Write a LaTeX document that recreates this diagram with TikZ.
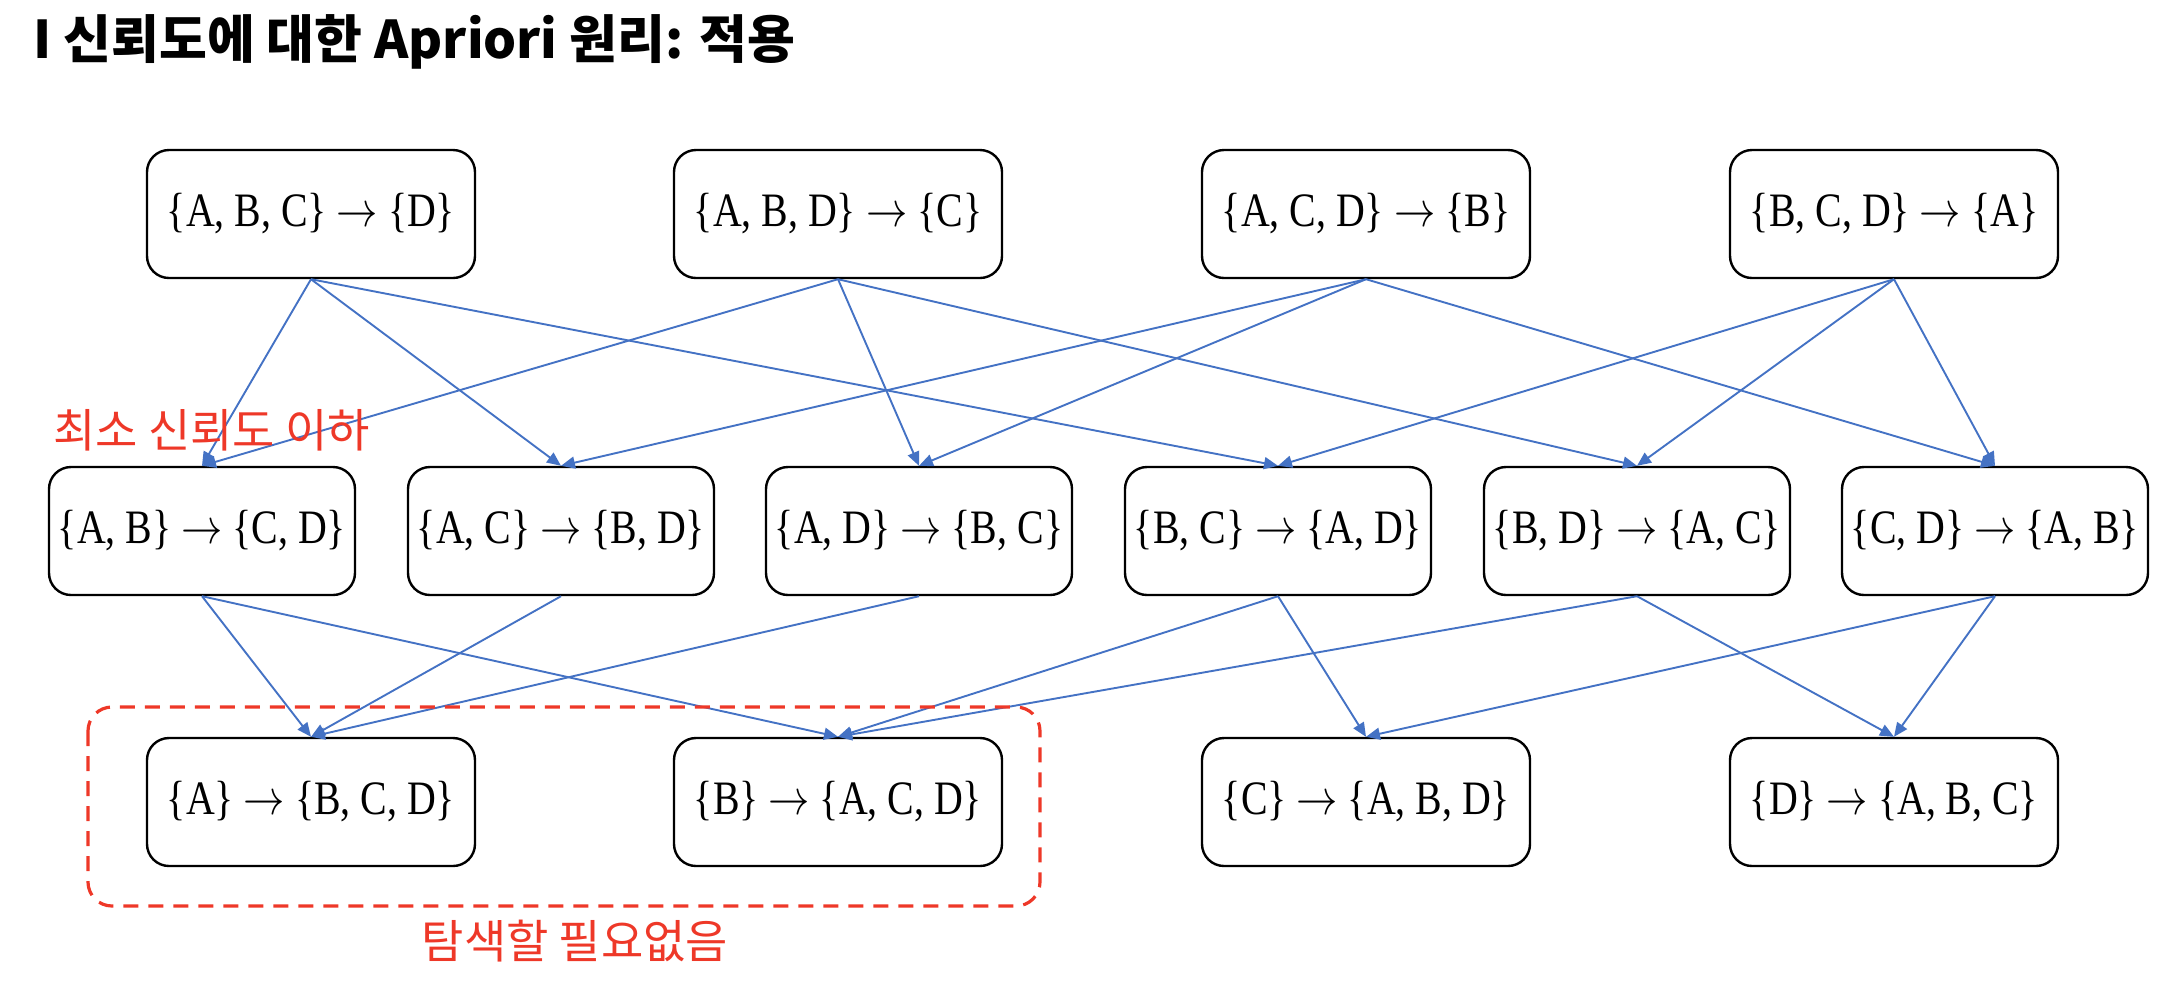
\documentclass[tikz,border=0pt]{standalone}
\usepackage{graphicx}
\usepackage{fontspec}
\setmainfont{Liberation Serif}
\newfontfamily\krfont{Noto Sans CJK KR}
\usetikzlibrary{arrows.meta}

\definecolor{linkblue}{RGB}{68,114,196}
\definecolor{notered}{RGB}{238,56,40}

% rule text, a little narrower
\newcommand{\rl}[2]{\scalebox{0.83}[1]{\{#1\} $\rightarrow$ \{#2\}}}

\tikzset{
  rule/.style={draw, line width=1.2pt, rounded corners=11pt, minimum width=164pt,
    minimum height=64pt, inner sep=0pt, font=\fontsize{24}{28}\selectfont},
  midrule/.style={rule, minimum width=153pt},
  link/.style={linkblue, line width=0.95pt, -{Triangle[length=7pt,width=6pt]}},
  note/.style={text=notered, inner sep=0pt, font=\krfont\fontsize{23}{27}\selectfont},
}

\begin{document}
\begin{tikzpicture}[x=0.5pt,y=-0.5pt]

        \useasboundingbox (0,0) rectangle (2168,982);

        % Title
        \node[anchor=west, inner sep=0pt, font=\krfont\bfseries\fontsize{26}{30}\selectfont]
          (title) at (33,42) {I 신뢰도에 대한 Apriori 원리: 적용};

        % Top row
        \node[rule] (abc) at (311,214) {\rl{A, B, C}{D}};
        \node[rule] (abd) at (838,214) {\rl{A, B, D}{C}};
        \node[rule] (acd) at (1366,214) {\rl{A, C, D}{B}};
        \node[rule] (bcd) at (1894,214) {\rl{B, C, D}{A}};

        % Middle row
        \node[midrule] (ab) at (202,531) {\rl{A, B}{C, D}};
        \node[midrule] (ac) at (561,531) {\rl{A, C}{B, D}};
        \node[midrule] (ad) at (919,531) {\rl{A, D}{B, C}};
        \node[midrule] (bc) at (1278,531) {\rl{B, C}{A, D}};
        \node[midrule] (bd) at (1637,531) {\rl{B, D}{A, C}};
        \node[midrule] (cd) at (1995,531) {\rl{C, D}{A, B}};

        % Bottom row
        \node[rule] (a) at (311,802) {\rl{A}{B, C, D}};
        \node[rule] (b) at (838,802) {\rl{B}{A, C, D}};
        \node[rule] (c) at (1366,802) {\rl{C}{A, B, D}};
        \node[rule] (d) at (1894,802) {\rl{D}{A, B, C}};

        % Links
        \foreach \s/\t in {abc/ab, abc/ac, abc/bc, abd/ab, abd/ad, abd/bd,
                           acd/ac, acd/ad, acd/cd, bcd/bc, bcd/bd, bcd/cd}
        \draw[link] (\s.south) -- (\t.north);

        \foreach \s/\t in {ab/a, ab/b, ac/a, ad/a, bc/b, bc/c, bd/b, bd/d, cd/c, cd/d}
        \draw[link] (\s.south) -- (\t.north);

        % Pruned part
        \draw[notered, line width=1.6pt, dash pattern=on 7.5pt off 5pt, rounded corners=12pt]
          (88,707) rectangle (1040,906);
        \node[note, anchor=west] (low) at (53,430) {최소 신뢰도 이하};
        \node[note] (skip) at (575,941) {탐색할 필요없음};

\end{tikzpicture}
\end{document}
